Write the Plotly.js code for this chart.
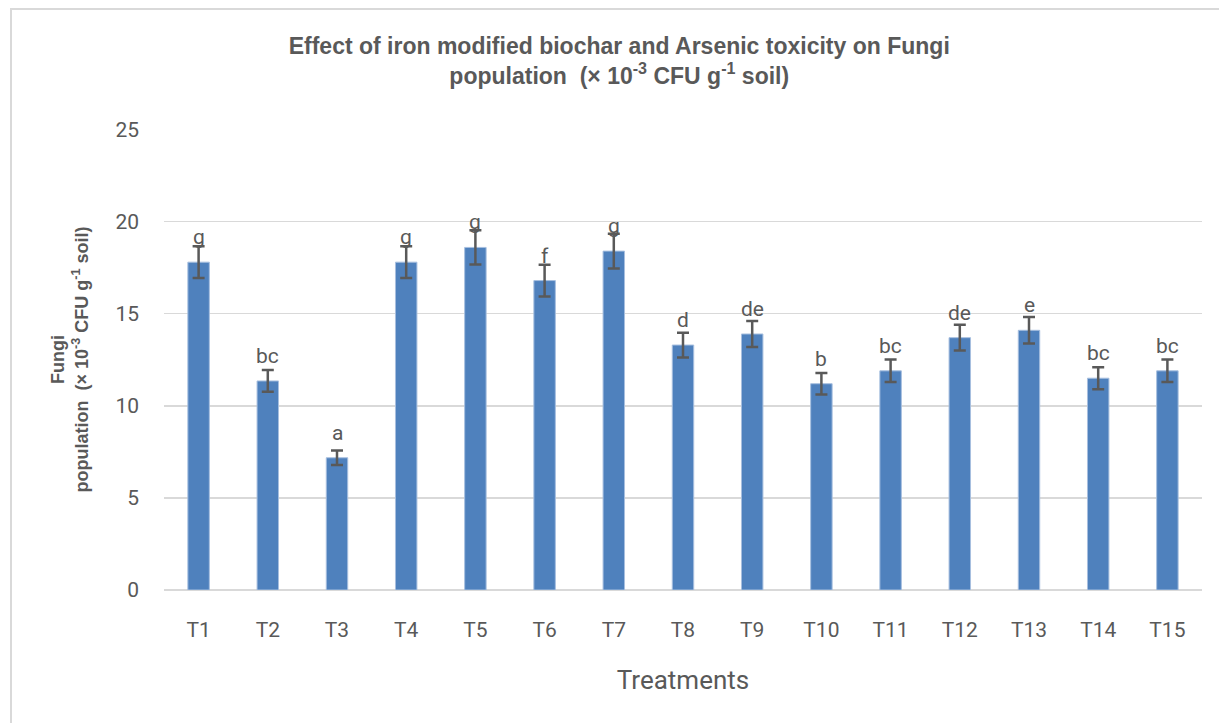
<!DOCTYPE html>
<html>
<head>
<meta charset="utf-8">
<script src="https://cdn.plot.ly/plotly-3.0.1.min.js"></script>
<style>
  html, body { margin: 0; padding: 0; background: #ffffff; }
  #frame { position: absolute; left: 10px; top: 8px; width: 1215px; height: 720px; border: 2px solid #d9d9d9; box-sizing: border-box; }
  #chart { position: absolute; left: 0; top: 0; width: 1219px; height: 723px; }
</style>
</head>
<body>
<div id="frame"></div>
<div id="chart"></div>
<script>
const treatments = ["T1","T2","T3","T4","T5","T6","T7","T8","T9","T10","T11","T12","T13","T14","T15"];
const fungi = [17.8, 11.35, 7.18, 17.8, 18.6, 16.8, 18.4, 13.3, 13.9, 11.2, 11.9, 13.7, 14.1, 11.5, 11.9];
const errors = [0.86, 0.59, 0.39, 0.86, 0.93, 0.86, 0.94, 0.67, 0.70, 0.58, 0.61, 0.70, 0.72, 0.60, 0.61];
const letters = ["g","bc","a","g","g","f","g","d","de","b","bc","de","e","bc","bc"];

const txtColor = "#595959";
const mainFont = "Roboto, 'Liberation Sans', Arial, sans-serif";
const boldFont = "'Liberation Sans', Arial, sans-serif";

const trace = {
  type: "bar",
  x: treatments,
  y: fungi,
  marker: { color: "#4f81bd", line: { color: "#a7bfdf", width: 1 } },
  width: 0.31,
  error_y: { type: "data", array: errors, visible: true, color: "#595959", thickness: 2.5, width: 6 },
  hoverinfo: "x+y"
};

const annotations = treatments.map((t, i) => ({
  x: t, y: fungi[i], xref: "x", yref: "y",
  text: letters[i], showarrow: false,
  yanchor: "bottom", yshift: 11,
  font: { family: mainFont, size: 21, color: txtColor }
}));

const layout = {
  width: 1219, height: 723,
  paper_bgcolor: "rgba(0,0,0,0)",
  plot_bgcolor: "rgba(0,0,0,0)",
  margin: { l: 164, r: 17, t: 129, b: 133 },
  showlegend: false,
  title: {
    text: "<b>Effect of iron modified biochar and Arsenic toxicity on Fungi<br>population  (× 10<sup>-3</sup> CFU g<sup>-1</sup> soil)</b>",
    font: { family: boldFont, size: 23, color: txtColor },
    x: 0.508, xanchor: "center", y: 0.925, yanchor: "top"
  },
  xaxis: {
    type: "category",
    tickfont: { family: mainFont, size: 21, color: txtColor },
    ticks: "", ticklabelstandoff: 25,
    showline: false, showgrid: false,
    title: { text: "Treatments", font: { family: mainFont, size: 26, color: txtColor }, standoff: 29 }
  },
  yaxis: {
    range: [0, 25.03], dtick: 5, tick0: 0,
    tickfont: { family: mainFont, size: 21, color: txtColor },
    ticks: "", ticklabelstandoff: 24,
    showgrid: true, gridcolor: "#d9d9d9", gridwidth: 1.5,
    zeroline: true, zerolinecolor: "#d9d9d9", zerolinewidth: 1.5,
    showline: false,
    title: {
      text: "<b>Fungi<br>population  (× 10<sup>-3</sup> CFU g<sup>-1</sup> soil)</b>",
      font: { family: boldFont, size: 18, color: txtColor }, standoff: 22
    }
  },
  annotations: annotations
};

Plotly.newPlot("chart", [trace], layout, { displayModeBar: false, staticPlot: true });
</script>
</body>
</html>
